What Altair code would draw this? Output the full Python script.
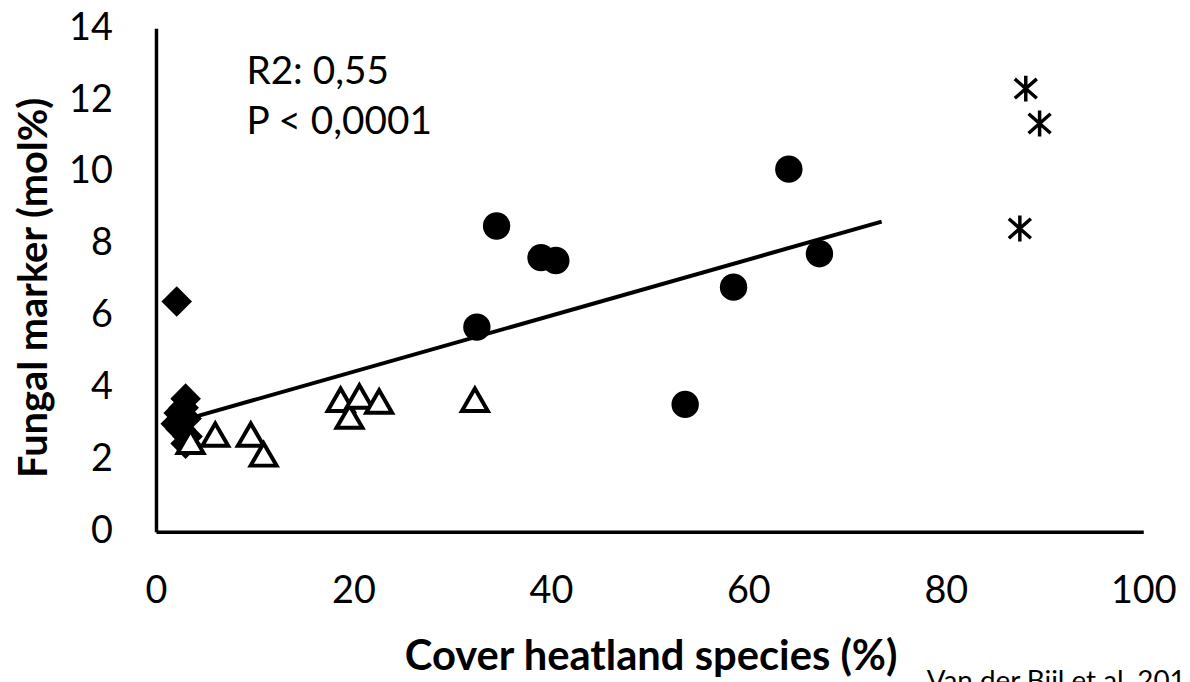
import altair as alt
import pandas as pd

# ---- data ----
diamond_x = [2.1, 3.0, 2.8, 2.3, 3.1, 2.0, 2.5, 3.2, 3.0]
diamond_y = [6.4, 3.7, 3.45, 3.3, 3.15, 3.0, 2.85, 2.65, 2.45]

triangle_x = [3.5, 6.0, 9.6, 10.9, 18.7, 19.6, 20.6, 22.6, 32.3]
triangle_y = [2.5, 2.7, 2.7, 2.15, 3.67, 3.2, 3.76, 3.62, 3.67]

circle_x = [32.5, 34.5, 39.0, 40.5, 53.6, 58.5, 64.1, 67.2]
circle_y = [5.69, 8.5, 7.62, 7.54, 3.54, 6.8, 10.08, 7.73]

star_x = [88.1, 89.5, 87.5]
star_y = [12.32, 11.35, 8.43]

trend_x = [4.0, 73.5]
trend_y = [3.2, 8.62]

x_ticks = [0, 20, 40, 60, 80, 100]
y_ticks = [0, 2, 4, 6, 8, 10, 12, 14]

stats_lines = ["R2: 0,55", "P < 0,0001"]
citation = "Van der Bijl et al. 2016"

FONT = "Lato"

def df(xs, ys):
    return pd.DataFrame({"x": xs, "y": ys})

X = alt.X(
    "x:Q",
    scale=alt.Scale(domain=[0, 100], nice=False, zero=False),
    axis=alt.Axis(
        values=x_ticks, ticks=False, tickSize=0, grid=False,
        domainColor="black", domainWidth=3.5,
        labelFont=FONT, labelFontSize=38, labelColor="black",
        labelPadding=41, labelFlush=False, labelOverlap=False,
        title="Cover heatland species (%)",
        titleFont=FONT, titleFontSize=42, titleFontWeight="bold",
        titleColor="black", titleBaseline="alphabetic",
        titleY=139, titleX=498, titleAlign="center",
    ),
)
Y = alt.Y(
    "y:Q",
    scale=alt.Scale(domain=[0, 14], nice=False, zero=False),
    axis=alt.Axis(
        values=y_ticks, ticks=False, tickSize=0, grid=False,
        domainColor="black", domainWidth=3.5,
        labelFont=FONT, labelFontSize=38, labelColor="black",
        labelPadding=44, labelOverlap=False,
        title="Fungal marker (mol%)",
        titleFont=FONT, titleFontSize=40, titleFontWeight="bold",
        titleColor="black", titleBaseline="alphabetic", titleAngle=270,
        titleX=-110, titleY=261, titleAlign="center",
    ),
)

diamonds = alt.Chart(df(diamond_x, diamond_y)).mark_point(
    shape="diamond", filled=True, color="black", opacity=1, size=950
).encode(x=X, y=Y)

trend = alt.Chart(df(trend_x, trend_y)).mark_line(
    color="black", strokeWidth=4
).encode(x=X, y=Y)

triangles = alt.Chart(df(triangle_x, triangle_y)).mark_point(
    shape="triangle-up", filled=True, fill="white", stroke="black",
    strokeWidth=4, opacity=1, fillOpacity=1, size=680
).encode(x=X, y=Y)

circles = alt.Chart(df(circle_x, circle_y)).mark_point(
    shape="circle", filled=True, color="black", opacity=1, size=760
).encode(x=X, y=Y)

star_path = "M0,-1L0,1M-0.85,-0.75L0.85,0.75M-0.85,0.75L0.85,-0.75"
stars = alt.Chart(df(star_x, star_y)).mark_point(
    shape=star_path, filled=False, stroke="black", strokeWidth=3.5,
    opacity=1, size=680
).encode(x=X, y=Y)

def note(text, px, py, size, baseline):
    return alt.Chart(pd.DataFrame({"label": [text]})).mark_text(
        align="left", baseline=baseline, font=FONT, fontSize=size, color="black"
    ).encode(x=alt.value(px), y=alt.value(py), text="label:N")

stats1 = note(stats_lines[0], 91, 56, 39, "alphabetic")
stats2 = note(stats_lines[1], 91, 107, 39, "alphabetic")
cite = note(citation, 776, 644, 28, "top")

chart = alt.layer(
    diamonds, trend, triangles, circles, stars, stats1, stats2, cite
).properties(
    width=994, height=507,
    padding={"left": 149, "top": 18, "right": 39, "bottom": 150},
    autosize=alt.AutoSizeParams(type="none"),
    background="white",
).configure_view(stroke=None)

chart.save("out.html", embed_options={"renderer": "svg", "actions": False})
